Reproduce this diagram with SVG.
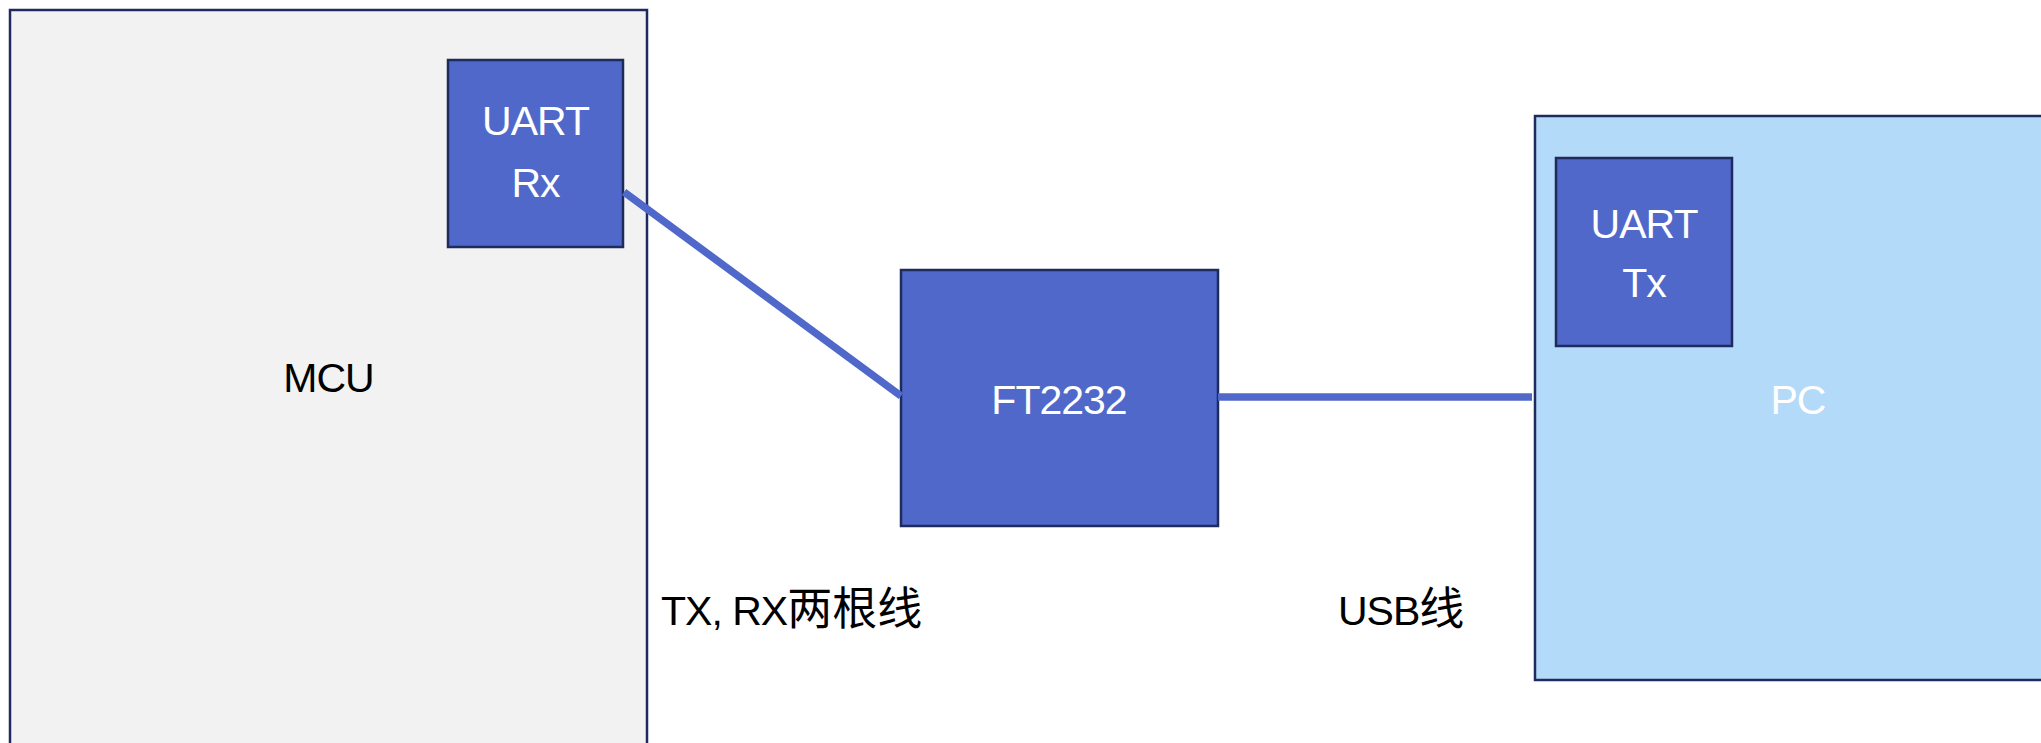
<svg xmlns="http://www.w3.org/2000/svg" width="2041" height="743" viewBox="0 0 2041 743">
<style>
.box{stroke:#1F2B5C;stroke-width:2.5}
.blue{fill:#4F68C9}
.t{font-family:"Liberation Sans",Arial,"Noto Sans CJK SC",sans-serif;font-size:41px;letter-spacing:-1px}
.w{fill:#FFFFFF}
.k{fill:#000000}
.c{text-anchor:middle}
.cjk{font-family:"Noto Sans CJK SC","Liberation Sans",sans-serif;font-size:45px;letter-spacing:0}
.wire{stroke:#4F68C9;stroke-width:7.5;fill:none}
</style>
<rect width="2041" height="743" fill="#FFFFFF"/>
<g id="mcu">
<rect class="box" x="10" y="10" width="637" height="740" fill="#F2F2F2"/>
<text class="t k c" x="328.5" y="392">MCU</text>
</g>
<g id="uart-rx">
<rect class="box blue" x="448" y="60" width="175" height="187"/>
<text class="t w c" x="535.5" y="135">UART</text>
<text class="t w c" x="535.5" y="197">Rx</text>
</g>
<g id="ft2232">
<rect class="box blue" x="901" y="270" width="317" height="256"/>
<text class="t w c" x="1059" y="414">FT2232</text>
</g>
<g id="pc">
<rect class="box" x="1535" y="116" width="530" height="564" fill="#B4DAF9"/>
<text class="t w c" x="1798" y="414">PC</text>
</g>
<g id="uart-tx">
<rect class="box blue" x="1556" y="158" width="176" height="188"/>
<text class="t w c" x="1644" y="238">UART</text>
<text class="t w c" x="1644" y="297">Tx</text>
</g>
<g id="connectors">
<line class="wire" x1="624" y1="192" x2="901" y2="396"/>
<line class="wire" x1="1218" y1="397" x2="1532" y2="397"/>
</g>
<g id="labels">
<text class="t k" x="661" y="625">TX, RX<tspan class="cjk">两根线</tspan></text>
<text class="t k" x="1338" y="625">USB<tspan class="cjk">线</tspan></text>
</g>
</svg>
